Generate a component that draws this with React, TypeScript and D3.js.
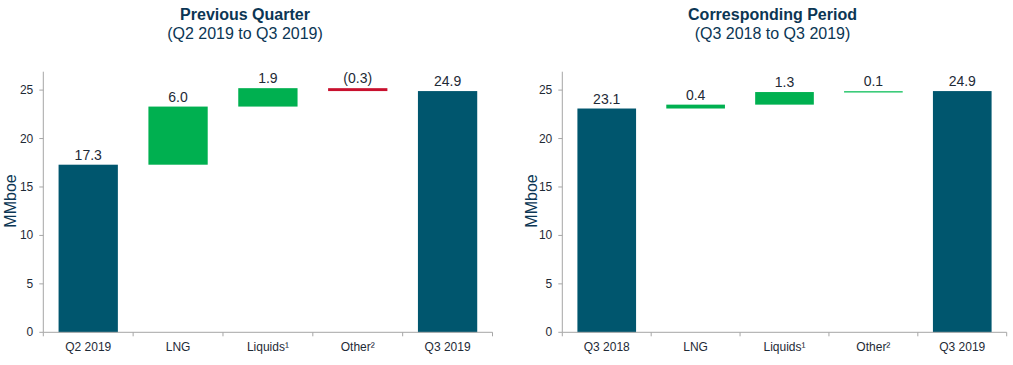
import React from "react";
import * as d3 from "d3";

const leftCategories = ["Q2 2019", "LNG", "Liquids¹", "Other²", "Q3 2019"];
const leftValues = [17.3, 6.0, 1.9, -0.3, 24.9];
const leftLabels = ["17.3", "6.0", "1.9", "(0.3)", "24.9"];
const leftKinds = ["total", "delta", "delta", "delta", "total"];

const rightCategories = ["Q3 2018", "LNG", "Liquids¹", "Other²", "Q3 2019"];
const rightValues = [23.1, 0.4, 1.3, 0.1, 24.9];
const rightLabels = ["23.1", "0.4", "1.3", "0.1", "24.9"];
const rightKinds = ["total", "delta", "delta", "delta", "total"];

const yTicks = [0, 5, 10, 15, 20, 25];

const TEAL = "#00566e";
const GREEN = "#00b050";
const RED = "#c8102e";
const THIN_GREEN = "#2ec870";
const AXIS = "#a6a6a6";
const TEXT = "#1e2a36";
const TITLE = "#0b3654";

type PanelProps = {
  x0: number;
  x1: number;
  titleX: number;
  yLabelX: number;
  title: string;
  subtitle: string;
  categories: string[];
  values: number[];
  labels: string[];
  kinds: string[];
};

function Panel(p: PanelProps) {
  const yTop = 71.7;
  const yBottom = 332.3;
  const y = d3.scaleLinear().domain([0, 26.9]).range([yBottom, yTop]);
  const x = d3
    .scaleBand<string>()
    .domain(p.categories.map((c, i) => String(i)))
    .range([p.x0, p.x1])
    .paddingInner(0.34)
    .paddingOuter(0.17);
  const step = x.step();
  const outerStart = p.x0;

  let running = 0;
  const bars = p.values.map((v, i) => {
    let lo: number, hi: number, color: string;
    if (p.kinds[i] === "total") {
      lo = 0;
      hi = v;
      running = v;
      color = TEAL;
    } else {
      const start = running;
      const end = running + v;
      running = end;
      lo = Math.min(start, end);
      hi = Math.max(start, end);
      color = v < 0 ? RED : Math.abs(v) < 0.2 ? THIN_GREEN : GREEN;
    }
    const top = y(hi);
    const h = Math.max(1.5, y(lo) - y(hi));
    return { i, top, h, color };
  });

  const boundaries = d3.range(p.categories.length + 1).map((k) => outerStart + k * step);

  return (
    <g>
      <text x={p.titleX} y={20} textAnchor="middle" fontFamily="Liberation Sans, Arial, sans-serif" fontWeight="bold" fontSize={16} fill={TITLE}>
        {p.title}
      </text>
      <text x={p.titleX} y={38.5} textAnchor="middle" fontFamily="Liberation Sans, Arial, sans-serif" fontSize={16} fill={TITLE}>
        {p.subtitle}
      </text>
      <text
        transform={`translate(${p.yLabelX},${201}) rotate(-90)`}
        textAnchor="middle"
        fontFamily="Liberation Sans, Arial, sans-serif"
        fontSize={16}
        fill={TITLE}
      >
        MMboe
      </text>
      <line x1={p.x0} x2={p.x0} y1={yTop} y2={yBottom} stroke={AXIS} strokeWidth={1} />
      {yTicks.map((t) => (
        <g key={t}>
          <line x1={p.x0 - 4} x2={p.x0} y1={y(t)} y2={y(t)} stroke={AXIS} strokeWidth={1} />
          <text x={p.x0 - 10} y={y(t) + 4} textAnchor="end" fontFamily="Liberation Sans, Arial, sans-serif" fontSize={12} fill={TEXT}>
            {t}
          </text>
        </g>
      ))}
      {bars.map((b) => (
        <rect key={b.i} x={x(String(b.i))} y={b.top} width={x.bandwidth()} height={b.h} fill={b.color} />
      ))}
      <line x1={p.x0} x2={p.x1} y1={yBottom} y2={yBottom} stroke={AXIS} strokeWidth={1} />
      {boundaries.map((bx, k) => (
        <line key={k} x1={bx} x2={bx} y1={yBottom} y2={yBottom + 4} stroke={AXIS} strokeWidth={1} />
      ))}
      {p.categories.map((c, i) => (
        <text
          key={c + i}
          x={(x(String(i)) as number) + x.bandwidth() / 2}
          y={351}
          textAnchor="middle"
          fontFamily="Liberation Sans, Arial, sans-serif"
          fontSize={12}
          fill={TEXT}
        >
          {c}
        </text>
      ))}
      {bars.map((b) => (
        <text
          key={"l" + b.i}
          x={(x(String(b.i)) as number) + x.bandwidth() / 2}
          y={b.top - 5}
          textAnchor="middle"
          fontFamily="Liberation Sans, Arial, sans-serif"
          fontSize={14}
          fill={TEXT}
        >
          {p.labels[b.i]}
        </text>
      ))}
    </g>
  );
}

export default function App() {
  return (
    <svg
      width={1013}
      height={365}
      style={{ position: "absolute", left: 0, top: 0, background: "#fff" }}
    >
      <rect x={0} y={0} width={1013} height={365} fill="#fff" />
      <Panel
        x0={43.3}
        x1={492.5}
        titleX={245}
        yLabelX={16}
        title="Previous Quarter"
        subtitle="(Q2 2019 to Q3 2019)"
        categories={leftCategories}
        values={leftValues}
        labels={leftLabels}
        kinds={leftKinds}
      />
      <Panel
        x0={562.3}
        x1={1006.7}
        titleX={772.5}
        yLabelX={537}
        title="Corresponding Period"
        subtitle="(Q3 2018 to Q3 2019)"
        categories={rightCategories}
        values={rightValues}
        labels={rightLabels}
        kinds={rightKinds}
      />
    </svg>
  );
}
